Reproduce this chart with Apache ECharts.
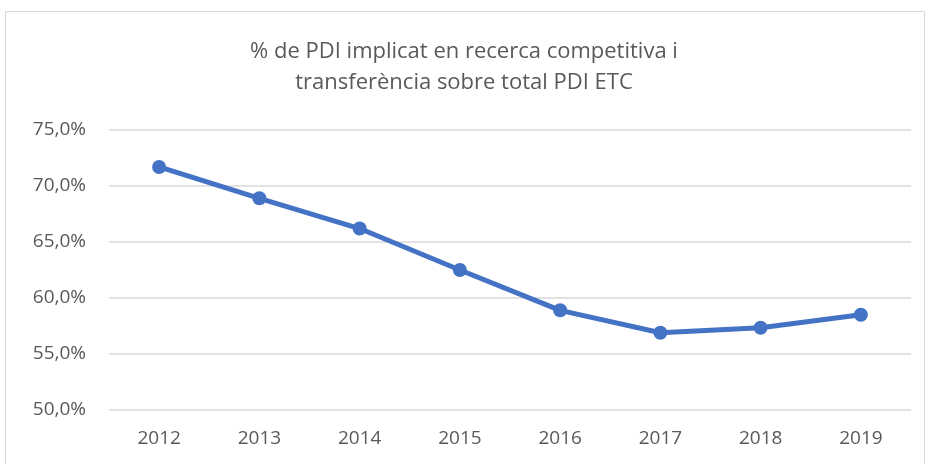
<!DOCTYPE html>
<html>
<head>
<meta charset="UTF-8">
<title></title>
<script src="https://cdn.jsdelivr.net/npm/echarts@6/dist/echarts.min.js"></script>
<style>
	html, body { margin: 0; padding: 0; background: #fff; }
	#main { width: 928px; height: 464px; }
</style>
</head>
<body>
<div id="main"></div>
<script>
	// anys i percentatges
	var years = ['2012', '2013', '2014', '2015', '2016', '2017', '2018', '2019'];
	var values = [71.7, 68.9, 66.2, 62.5, 58.9, 56.9, 57.35, 58.5];
	var titleText = '% de PDI implicat en recerca competitiva i\ntransferència sobre total PDI ETC';

	var chart = echarts.init(document.getElementById('main'));
	var font = 'Open Sans';

	var option = {
		backgroundColor: '#fff',
		animation: false,
		graphic: [{
			type: 'rect',
			shape: { x: 5.5, y: 11.5, width: 919, height: 480 },
			style: { fill: 'none', stroke: '#d9d9d9', lineWidth: 1 }
		}],
		title: {
			text: titleText,
			left: 'center',
			top: 31,
			textStyle: {
				fontFamily: font,
				fontSize: 22,
				fontWeight: 'normal',
				color: '#595959',
				lineHeight: 31
			}
		},
		grid: {
			left: 109,
			right: 17,
			top: 130,
			bottom: 54
		},
		xAxis: {
			type: 'category',
			data: years,
			axisLine: { show: false },
			axisTick: { show: false },
			axisLabel: {
				fontFamily: font,
				fontSize: 19,
				color: '#595959',
				margin: 19
			}
		},
		yAxis: {
			type: 'value',
			min: 50,
			max: 75,
			interval: 5,
			axisLine: { show: false },
			axisTick: { show: false },
			splitLine: { lineStyle: { color: '#d9d9d9', width: 1.5 } },
			axisLabel: {
				fontFamily: font,
				fontSize: 19,
				color: '#595959',
				margin: 23,
				formatter: function (v) { return v.toFixed(1).replace('.', ',') + '%'; }
			}
		},
		series: [{
			type: 'line',
			data: values,
			symbol: 'circle',
			symbolSize: 14,
			lineStyle: { color: '#4472C4', width: 5 },
			itemStyle: { color: '#4472C4' }
		}]
	};
	chart.setOption(option);
</script>
</body>
</html>
